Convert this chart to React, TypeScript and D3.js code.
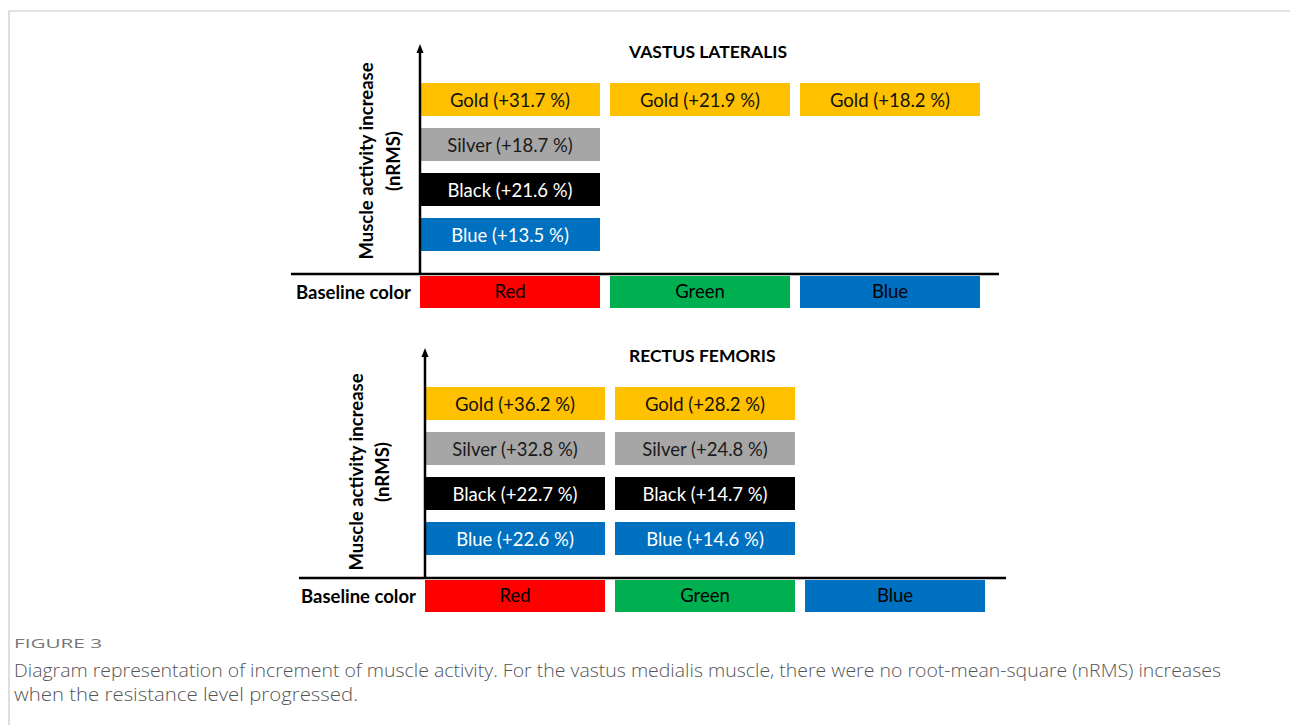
import React from 'react';
import * as d3 from 'd3';

// data: nRMS increase (%) per baseline colour, null = no increase
const baselineColors = ['Red', 'Green', 'Blue'];
const resistanceColors = ['Gold', 'Silver', 'Black', 'Blue'];
const muscles = ['VASTUS LATERALIS', 'RECTUS FEMORIS'];
const vastusLateralis = [
  [31.7, 18.7, 21.6, 13.5],
  [21.9, null, null, null],
  [18.2, null, null, null],
];
const rectusFemoris = [
  [36.2, 32.8, 22.7, 22.6],
  [28.2, 24.8, 14.7, 14.6],
  [null, null, null, null],
];

const fills: Record<string, string> = {
  Gold: '#FFC000', Silver: '#A6A6A6', Black: '#000000', Blue: '#0070C0',
  Red: '#FF0000', Green: '#00B050',
};
const textFills: Record<string, string> = {
  Gold: '#111', Silver: '#1a1a1a', Black: '#fff', Blue: '#fff',
};

const font = 'Lato, "Open Sans", sans-serif';
const capFont = '"Open Sans", sans-serif';

// layout of the two panels (origin = foot of the y arrow)
const layouts = [
  { ax: 420, base: 274, titleX: 629, lab1: -54, lab2: -27, labY: -113, from: -129, to: 579 },
  { ax: 425, base: 578, titleX: 629, lab1: -69, lab2: -43, labY: -106, from: -126, to: 581 },
];

const x = d3.scaleBand<string>().domain(baselineColors).range([0, 560]).paddingInner(10 / 190).paddingOuter(0);
const y = d3.scaleBand<string>().domain(resistanceColors).range([-191, -23]).paddingInner(12 / 45).paddingOuter(0);

function Panel({ title, values, lay }: { title: string; values: (number | null)[][]; lay: typeof layouts[0] }) {
  return (
    <g transform={`translate(${lay.ax},${lay.base})`}>
      <text x={lay.titleX - lay.ax} y={-223} dominantBaseline="central" fontFamily={font}
        fontWeight="bold" fontSize={17.5} fill="#000">{title}</text>
      {/* y label */}
      <g transform={`translate(${lay.lab1},${lay.labY}) rotate(-90)`}>
        <text textAnchor="middle" dominantBaseline="central" fontFamily={font} fontWeight="bold" fontSize={18.5}>Muscle activity increase</text>
      </g>
      <g transform={`translate(${lay.lab2},${lay.labY}) rotate(-90)`}>
        <text textAnchor="middle" dominantBaseline="central" fontFamily={font} fontWeight="bold" fontSize={18.5}>(nRMS)</text>
      </g>
      {/* bars */}
      {baselineColors.map((b, i) =>
        resistanceColors.map((r, j) => {
          const v = values[i][j];
          if (v == null) return null;
          const bx = x(b)!, by = y(r)!;
          return (
            <g key={b + r}>
              <rect x={bx} y={by} width={x.bandwidth()} height={y.bandwidth()} fill={fills[r]} />
              <text x={bx + x.bandwidth() / 2} y={by + y.bandwidth() / 2} textAnchor="middle"
                dominantBaseline="central" fontFamily={font} fontSize={18.5} fill={textFills[r]}>
                {`${r} (+${v.toFixed(1)} %)`}
              </text>
            </g>
          );
        })
      )}
      {/* baseline colour boxes */}
      {baselineColors.map(b => (
        <g key={b}>
          <rect x={x(b)} y={2} width={x.bandwidth()} height={32} fill={fills[b]} />
          <text x={x(b)! + x.bandwidth() / 2} y={17} textAnchor="middle" dominantBaseline="central"
            fontFamily={font} fontSize={18.5} fill="#000">{b}</text>
        </g>
      ))}
      <text x={-9} y={18} textAnchor="end" dominantBaseline="central" fontFamily={font}
        fontWeight="bold" fontSize={18.5} fill="#000">Baseline color</text>
      {/* axes */}
      <line x1={lay.from} x2={lay.to} y1={0} y2={0} stroke="#000" strokeWidth={2.5} />
      <line x1={0} x2={0} y1={1} y2={-222} stroke="#000" strokeWidth={2.5} />
      <path d="M0,-230 L3.5,-221 L-3.5,-221 Z" fill="#000" />
    </g>
  );
}

export default function App() {
  return (
    <svg width={1290} height={725} style={{ position: 'absolute', left: 0, top: 0, background: '#fff' }}>
      <rect x={0} y={0} width={1290} height={725} fill="#fff" />
      <path d="M9,725 V11 H1290" fill="none" stroke="#c8c8c8" strokeWidth={1.2} />
      <Panel title={muscles[0]} values={vastusLateralis} lay={layouts[0]} />
      <Panel title={muscles[1]} values={rectusFemoris} lay={layouts[1]} />
      <text x={14} y={643} dominantBaseline="central" fontFamily={capFont} fontSize={13}
        fill="#777" textLength={88} lengthAdjust="spacingAndGlyphs">FIGURE 3</text>
      <text x={14} y={670} dominantBaseline="central" fontFamily={capFont} fontSize={18}
        fill="#555" fontWeight={300} textLength={1207} lengthAdjust="spacingAndGlyphs">Diagram representation of increment of muscle activity. For the vastus medialis muscle, there were no root-mean-square (nRMS) increases</text>
      <text x={14} y={694} dominantBaseline="central" fontFamily={capFont} fontSize={18}
        fill="#555" fontWeight={300} textLength={344} lengthAdjust="spacingAndGlyphs">when the resistance level progressed.</text>
    </svg>
  );
}
